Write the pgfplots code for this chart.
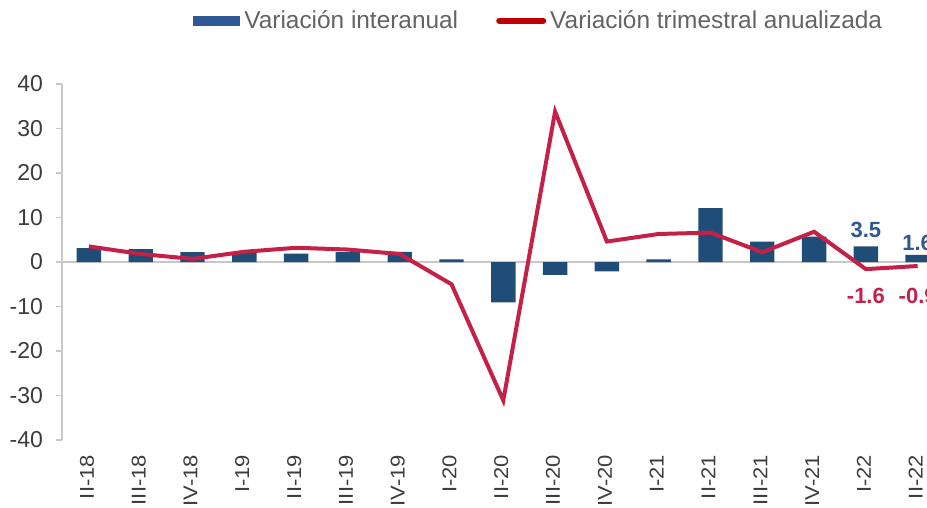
\documentclass[border=0pt]{standalone}
\usepackage{fontspec}
\setmainfont{Liberation Sans}
\newfontfamily\tickfont[FakeStretch=1.1]{Liberation Sans}
\usepackage{pgfplots}
\pgfplotsset{compat=1.18}

\definecolor{barblue}{RGB}{31,77,120}
\definecolor{linered}{RGB}{196,32,72}
\definecolor{legblue}{RGB}{46,88,150}
\definecolor{legred}{RGB}{192,0,0}
\definecolor{axgray}{RGB}{200,200,200}
\definecolor{txtgray}{RGB}{60,60,60}

\pgfplotstableread{
idx inter trim
0   3.1   3.5
1   2.9   1.8
2   2.2   0.7
3   2.0   2.3
4   1.9   3.2
5   2.2   2.8
6   2.3   1.8
7   0.6  -5.0
8  -9.1  -31.1
9  -2.9   33.8
10 -2.1   4.6
11  0.6   6.3
12 12.1   6.6
13  4.6   2.2
14  5.7   6.8
15  3.5  -1.6
16  1.6  -0.9
}\datatable

\begin{document}
\begin{tikzpicture}
\path[use as bounding box] (0,0) rectangle (463.5pt,254pt);
\begin{axis}[
  at={(31pt,34pt)}, anchor=south west,
  scale only axis, width=432.5pt, height=178pt,
  xmin=-0.52, xmax=16.18, ymin=-40, ymax=40,
  axis lines*=left,
  x axis line style={draw=none},
  y axis line style={draw=axgray, line width=0.6pt},
  xtick={0,...,16},
  xticklabels={II-18,III-18,IV-18,I-19,II-19,III-19,IV-19,I-20,II-20,III-20,IV-20,I-21,II-21,III-21,IV-21,I-22,II-22},
  major x tick style={draw=none},
  xticklabel style={yshift=-1pt, xshift=-1pt, rotate=90, anchor=east, font=\tickfont\fontsize{10}{11}\selectfont, text=txtgray},
  ytick={-40,-30,...,40},
  y tick style={draw=axgray, line width=0.6pt},
  tick align=outside, major tick length=3pt,
  yticklabel style={font=\fontsize{11.5}{12}\selectfont, text=txtgray, xshift=-3pt},
  /pgf/number format/assume math mode=true,
  clip=true,
  legend columns=2,
  legend style={draw=none, fill=none, at={(axis description cs:0.1514,1.178)}, anchor=west,
    font=\fontsize{12.2}{13}\selectfont, text=txtgray!80,
    /tikz/every even column/.append style={column sep=17pt},
    inner sep=0pt},
  legend cell align=left,
]
\draw[axgray, line width=0.6pt] (axis cs:-0.52,0) -- (axis cs:16.18,0);
\addplot[ybar, bar width=12.2pt, fill=barblue, draw=none,
  legend image code/.code={\fill[legblue] (0pt,-2.5pt) rectangle (23.5pt,2.5pt);}]
  table[x=idx, y=inter] {\datatable};
\addlegendentry{Variación interanual}
\addplot[sharp plot, linered, line width=2pt, mark=none,
  legend image code/.code={\draw[legred, line width=3pt, line cap=round] (0pt,0pt) -- (22pt,0pt);}]
  table[x=idx, y=trim] {\datatable};
\addlegendentry{Variación trimestral anualizada}
\node[font=\bfseries\fontsize{11}{12}\selectfont, text=legblue, anchor=south] at (axis cs:15,3.5) [yshift=1pt] {3.5};
\node[font=\bfseries\fontsize{11}{12}\selectfont, text=legblue, anchor=south] at (axis cs:16,1.6) [yshift=-1.5pt] {1.6};
\node[font=\bfseries\fontsize{11}{12}\selectfont, text=linered, anchor=north] at (axis cs:15,-1.6) [yshift=-6pt] {-1.6};
\node[font=\bfseries\fontsize{11}{12}\selectfont, text=linered, anchor=north] at (axis cs:16,-0.9) [yshift=-7.5pt] {-0.9};
\end{axis}
\end{tikzpicture}
\end{document}
